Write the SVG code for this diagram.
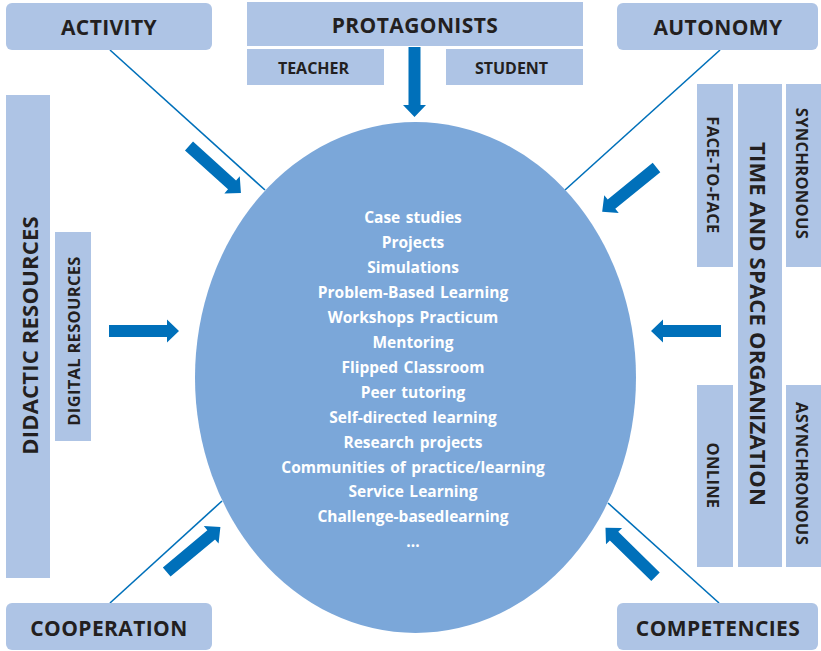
<svg xmlns="http://www.w3.org/2000/svg" width="821" height="651" viewBox="0 0 821 651">
<style>
.box{fill:#AEC4E5;}
.lbl{font-family:"Open Sans","Liberation Sans",sans-serif;font-weight:700;fill:#231F20;text-anchor:middle;dominant-baseline:central;}
.big{font-size:21px;letter-spacing:0.4px;}
.mid{font-size:16px;}
.vbig{font-size:22px;letter-spacing:0.2px;}
.vmid{font-size:16.5px;letter-spacing:0.3px;}
.in{font-family:"Open Sans","Liberation Sans",sans-serif;font-weight:700;fill:#FFFFFF;text-anchor:middle;font-size:15.5px;word-spacing:1.5px;}
.ln{stroke:#0070BA;stroke-width:1.6;fill:none;}
.arr{fill:#0070BA;}
</style>
<defs>
<path id="ar" d="M0,-6 H58 V-11.5 L70,0 L58,11.5 V6 H0 Z"/>
</defs>
<rect width="821" height="651" fill="#FFFFFF"/>

<g id="connectors">
<line class="ln" x1="110" y1="50" x2="265" y2="190"/>
<line class="ln" x1="720" y1="50" x2="565" y2="190"/>
<line class="ln" x1="110" y1="603" x2="222" y2="501"/>
<line class="ln" x1="719" y1="603" x2="608" y2="503"/>
</g>

<g id="center">
<ellipse cx="415.5" cy="377.5" rx="220.5" ry="255.5" fill="#7BA7D9"/>
<text class="in" x="413" y="223">Case studies</text>
<text class="in" x="413" y="248">Projects</text>
<text class="in" x="413" y="273">Simulations</text>
<text class="in" x="413" y="298">Problem-Based Learning</text>
<text class="in" x="413" y="323">Workshops  Practicum</text>
<text class="in" x="413" y="348">Mentoring</text>
<text class="in" x="413" y="373">Flipped Classroom</text>
<text class="in" x="413" y="398">Peer tutoring</text>
<text class="in" x="413" y="423">Self-directed learning</text>
<text class="in" x="413" y="448">Research projects</text>
<text class="in" x="413" y="473">Communities of practice/learning</text>
<text class="in" x="413" y="497">Service Learning</text>
<text class="in" x="413" y="522">Challenge-basedlearning</text>
<text class="in" x="413" y="547">...</text>
</g>

<g id="arrows">
<use href="#ar" class="arr" transform="translate(414.5,47) rotate(90)"/>
<use href="#ar" class="arr" transform="translate(189,146) rotate(42.1)"/>
<use href="#ar" class="arr" transform="translate(656.5,167.5) rotate(140.9)"/>
<use href="#ar" class="arr" transform="translate(166.7,572) rotate(-39.9)"/>
<use href="#ar" class="arr" transform="translate(655.5,576.7) rotate(-135.6)"/>
<use href="#ar" class="arr" transform="translate(109,331)"/>
<use href="#ar" class="arr" transform="translate(721,331) rotate(180)"/>
</g>

<g id="activity">
<rect class="box" x="6" y="3" width="206" height="47" rx="6"/>
<text class="lbl big" x="109" y="27">ACTIVITY</text>
</g>
<g id="protagonists">
<rect class="box" x="247" y="2" width="336" height="44"/>
<text class="lbl big" x="415" y="25">PROTAGONISTS</text>
</g>
<g id="teacher">
<rect class="box" x="247" y="49" width="137" height="36"/>
<text class="lbl mid" x="313.5" y="67.5">TEACHER</text>
</g>
<g id="student">
<rect class="box" x="446" y="49" width="137" height="36"/>
<text class="lbl mid" x="511.5" y="67.5">STUDENT</text>
</g>
<g id="autonomy">
<rect class="box" x="617" y="3" width="201" height="47" rx="6"/>
<text class="lbl big" x="718" y="27">AUTONOMY</text>
</g>
<g id="didactic-resources">
<rect class="box" x="6" y="95" width="44" height="483"/>
<text class="lbl vbig" transform="translate(29,335.5) rotate(-90)">DIDACTIC RESOURCES</text>
</g>
<g id="digital-resources">
<rect class="box" x="55" y="232" width="36" height="209"/>
<text class="lbl vmid" transform="translate(73.5,341) rotate(-90)">DIGITAL RESOURCES</text>
</g>
<g id="face-to-face">
<rect class="box" x="697" y="84" width="36" height="183"/>
<text class="lbl vmid" transform="translate(713,175) rotate(90)">FACE-TO-FACE</text>
</g>
<g id="time-space">
<rect class="box" x="738" y="84" width="44" height="483"/>
<text class="lbl vbig" transform="translate(759,324) rotate(90)">TIME AND SPACE ORGANIZATION</text>
</g>
<g id="synchronous">
<rect class="box" x="786" y="84" width="35" height="183"/>
<text class="lbl vmid" transform="translate(802,173.5) rotate(90)">SYNCHRONOUS</text>
</g>
<g id="online">
<rect class="box" x="697" y="385" width="36" height="182"/>
<text class="lbl vmid" transform="translate(713,475.5) rotate(90)">ONLINE</text>
</g>
<g id="asynchronous">
<rect class="box" x="786" y="385" width="35" height="182"/>
<text class="lbl vmid" transform="translate(802,473.5) rotate(90)">ASYNCHRONOUS</text>
</g>
<g id="cooperation">
<rect class="box" x="6" y="603" width="206" height="47" rx="6"/>
<text class="lbl big" x="109" y="628">COOPERATION</text>
</g>
<g id="competencies">
<rect class="box" x="617" y="603" width="201" height="47" rx="6"/>
<text class="lbl big" x="718" y="628">COMPETENCIES</text>
</g>
</svg>
